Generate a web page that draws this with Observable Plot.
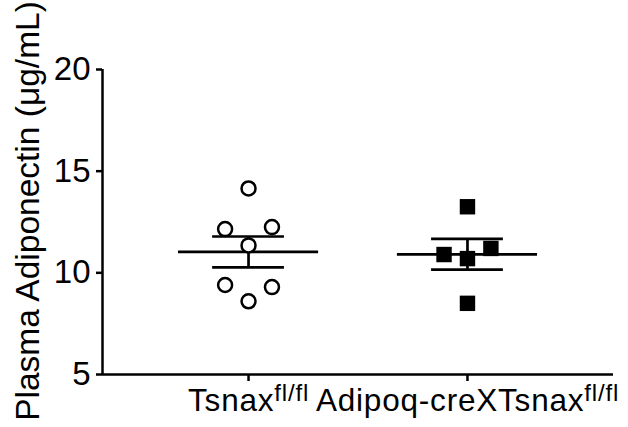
<!DOCTYPE html>
<html>
<head>
<meta charset="utf-8">
<script src="https://cdn.jsdelivr.net/npm/d3@7"></script>
<script src="https://cdn.jsdelivr.net/npm/@observablehq/plot@0.6"></script>
<style>
  html, body { margin: 0; padding: 0; background: #fff; }
  #chart svg { display: block; }
</style>
</head>
<body>
<div id="chart"></div>
<script>
// Categories (superscript part after "^")
const groups = ["Tsnax^fl/fl", "Adipoq-creXTsnax^fl/fl"];
// Plasma adiponectin values (µg/mL)
const controlValues = [14.15, 12.15, 12.25, 11.35, 9.4, 9.3, 8.6];
const controlColumn = [0, -1, 1, 0, -1, 1, 0];
const knockoutValues = [13.25, 10.9, 11.2, 10.7, 8.5];
const knockoutColumn = [0, -1, 1, 0, 0];
// Axis ticks
const yTicks = [5, 10, 15, 20];
const yLabel = "Plasma Adiponectin (μg/mL)";

const xDomain = [-0.667, 1.667];
const colStep = 0.107;

const control = controlValues.map((v, k) => ({g: 0, col: controlColumn[k], v}));
const knockout = knockoutValues.map((v, k) => ({g: 1, col: knockoutColumn[k], v}));

function stats(vals, g) {
  const m = d3.mean(vals);
  const sem = d3.deviation(vals) / Math.sqrt(vals.length);
  return {g, mean: m, lo: m - sem, hi: m + sem};
}
const summary = [stats(controlValues, 0), stats(knockoutValues, 1)];

const font = "'Liberation Sans', Arial, sans-serif";

const svg = Plot.plot({
  width: 628,
  height: 427,
  marginLeft: 102,
  marginRight: 15,
  marginTop: 69,
  marginBottom: 53,
  style: {fontFamily: font, background: "#fff", color: "#000"},
  x: {domain: xDomain, axis: null},
  y: {domain: [yTicks[0], yTicks[yTicks.length - 1]], axis: null},
  marks: [
    Plot.axisY({ticks: yTicks, tickSize: 6, tickPadding: 6, fontSize: 33, strokeWidth: 2.5, label: null}),
    Plot.axisX({ticks: [0, 1], tickFormat: i => groups[i], tickSize: 7, tickPadding: 7, fontSize: 31.5, strokeWidth: 2.5, label: null}),
    Plot.ruleX([xDomain[0]], {strokeWidth: 2.5}),
    Plot.ruleY([yTicks[0]], {strokeWidth: 2.5}),
    Plot.text([yLabel], {frameAnchor: "left", dx: -74, dy: -11, rotate: -90, fontSize: 33.5, textAnchor: "middle", lineAnchor: "middle"}),
    // mean line
    Plot.ruleY(summary, {y: "mean", x1: d => d.g - 0.32, x2: d => d.g + 0.32, strokeWidth: 2.7}),
    // SEM whisker
    Plot.ruleX(summary, {x: "g", y1: "lo", y2: "hi", strokeWidth: 2.7}),
    Plot.ruleY(summary, {y: "hi", x1: d => d.g - 0.164, x2: d => d.g + 0.164, strokeWidth: 2.7}),
    Plot.ruleY(summary, {y: "lo", x1: d => d.g - 0.164, x2: d => d.g + 0.164, strokeWidth: 2.7}),
    // points
    Plot.dot(control, {x: d => d.g + d.col * colStep, y: "v", r: 7, stroke: "#000", strokeWidth: 2.5, fill: "#fff"}),
    Plot.dot(knockout, {x: d => d.g + d.col * colStep, y: "v", r: 8.7, symbol: "square", fill: "#000", stroke: "none"})
  ]
});

// superscripts in x tick labels
d3.select(svg).selectAll('g[aria-label="x-axis tick label"] text').each(function () {
  const parts = this.textContent.split("^");
  const t = d3.select(this);
  t.text(null).attr("letter-spacing", 0.8);
  t.append("tspan").text(parts[0]);
  if (parts[1]) t.append("tspan").attr("font-size", 24).attr("dy", "-0.42em").text(parts[1]);
});

document.getElementById("chart").appendChild(svg);
</script>
</body>
</html>
